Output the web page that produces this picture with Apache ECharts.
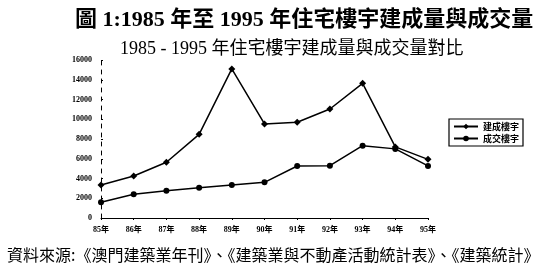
<!DOCTYPE html>
<html><head><meta charset="utf-8">
<script src="https://cdn.jsdelivr.net/npm/echarts@6/dist/echarts.min.js"></script>
<style>html,body{margin:0;padding:0;background:#fff}#c{width:535px;height:269px}</style>
</head><body><div id="c"></div>
<script>
const categories = ['85年','86年','87年','88年','89年','90年','91年','92年','93年','94年','95年'];
const completed = [3350, 4250, 5650, 8470, 15100, 9520, 9690, 11040, 13640, 7200, 5940];
const transacted = [1600, 2400, 2770, 3070, 3340, 3610, 5270, 5300, 7320, 7000, 5270];
const yTicks = [0, 2000, 4000, 6000, 8000, 10000, 12000, 14000, 16000];
const seriesNames = ['建成樓宇', '成交樓宇'];
const titleText = '圖 1:1985 年至 1995 年住宅樓宇建成量與成交量';
const subtitleText = '1985 - 1995 年住宅樓宇建成量與成交量對比';
const sourceText = '資料來源:《澳門建築業年刊》、《建築業與不動產活動統計表》、《建築統計》';

const serifCJK = '"Liberation Serif", "Noto Sans CJK TC", serif';
const chart = echarts.init(document.getElementById('c'), null, {renderer: 'canvas'});
chart.setOption({
  animation: false,
  backgroundColor: '#fff',
  title: [
    {text: titleText, left: 70, top: 4, textStyle: {fontFamily: serifCJK, fontSize: 22, fontWeight: 'bold', color: '#000'}},
    {text: subtitleText, left: 115, top: 35, textStyle: {fontFamily: serifCJK, fontSize: 18, fontWeight: 'normal', color: '#000'}},
    {text: sourceText, left: 2, top: 242, textStyle: {fontFamily: '"Noto Sans CJK TC", sans-serif', fontSize: 16, fontWeight: 'normal', color: '#000'}}
  ],
  legend: {
    orient: 'vertical', left: 449, top: 119,
    backgroundColor: '#fff', borderColor: '#000', borderWidth: 1.2, borderRadius: 0,
    padding: [3, 4, 3, 4], itemGap: 3, itemWidth: 24, itemHeight: 7,
    textStyle: {fontFamily: '"Noto Sans CJK TC", sans-serif', fontSize: 9, fontWeight: 'bold', color: '#000'},
    data: seriesNames
  },
  grid: {left: 101, right: 107, top: 60, bottom: 51, containLabel: false},
  xAxis: {
    type: 'category', data: categories, boundaryGap: false,
    axisLine: {lineStyle: {color: '#000', width: 1}},
    axisTick: {show: true, alignWithLabel: true, length: 2, lineStyle: {color: '#000'}},
    axisLabel: {margin: 8, fontFamily: serifCJK, fontSize: 8, fontWeight: 'bold', color: '#000', interval: 0}
  },
  yAxis: {
    type: 'value', min: 0, max: 16000, interval: 2000,
    axisLine: {show: true, lineStyle: {color: '#000', width: 1, type: [4, 5]}},
    axisTick: {show: true, length: 2, inside: true, lineStyle: {color: '#000'}},
    splitLine: {show: false},
    axisLabel: {margin: 9, fontFamily: serifCJK, fontSize: 8, fontWeight: 'bold', color: '#000',
      formatter: function (v) { return yTicks.indexOf(v) >= 0 ? String(v) : ''; }}
  },
  series: [
    {name: seriesNames[0], type: 'line', data: completed, symbol: 'diamond', symbolSize: 7,
     lineStyle: {color: '#000', width: 1.5}, itemStyle: {color: '#000'}},
    {name: seriesNames[1], type: 'line', data: transacted, symbol: 'circle', symbolSize: 6,
     lineStyle: {color: '#000', width: 1.5}, itemStyle: {color: '#000'}}
  ]
});
</script></body></html>
